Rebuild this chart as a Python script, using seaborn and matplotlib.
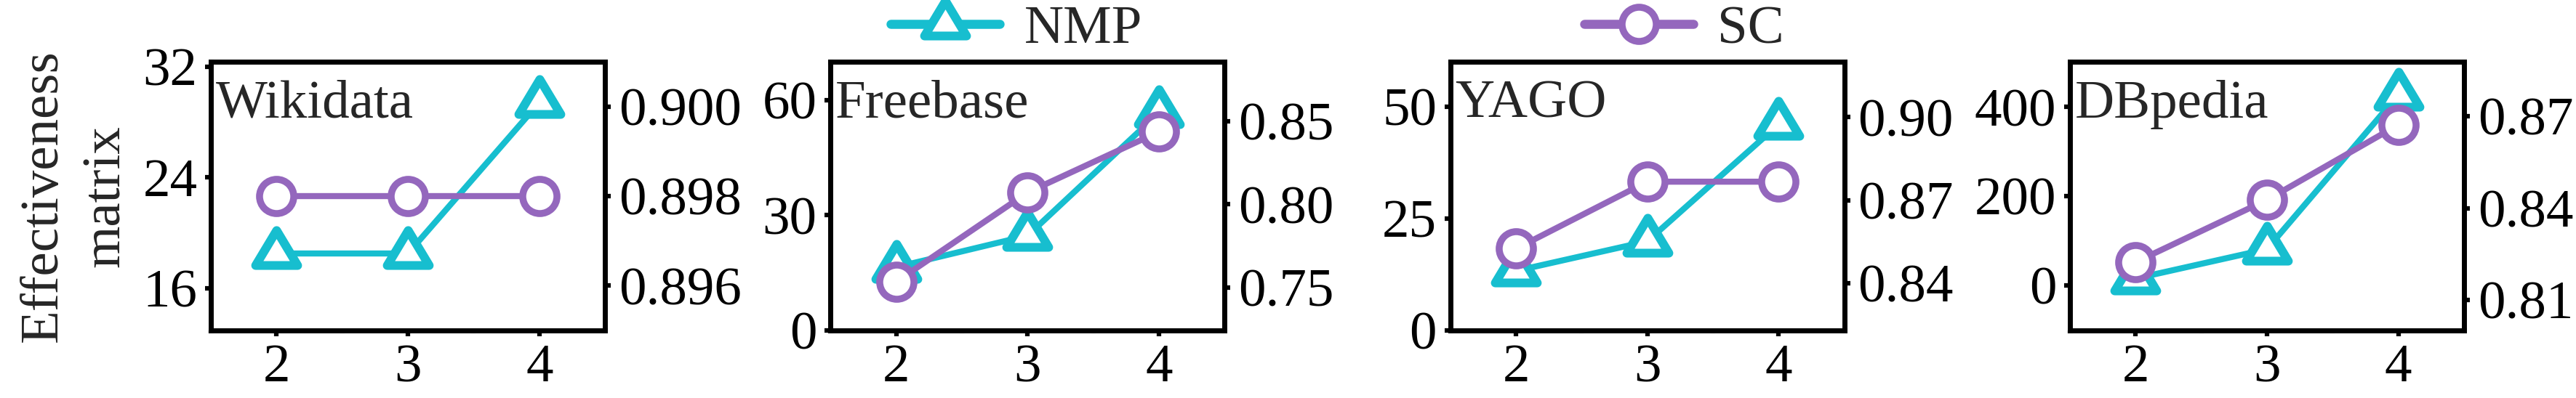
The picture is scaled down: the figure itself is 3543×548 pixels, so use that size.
import pandas as pd
import seaborn as sns
import matplotlib.pyplot as plt
from matplotlib.lines import Line2D
from matplotlib.path import Path
from matplotlib.markers import MarkerStyle
from matplotlib.ticker import MultipleLocator

# --- data ---
depth = [2, 3, 4]
datasets = ['Wikidata', 'Freebase', 'YAGO', 'DBpedia']

nmp_wikidata = [18.5, 18.5, 29.4]
nmp_freebase = [16.5, 24.7, 56.7]
nmp_yago = [13.3, 19.9, 46.0]
nmp_dbpedia = [15, 81, 427]

sc_wikidata = [0.898, 0.898, 0.898]
sc_freebase = [0.7534, 0.8072, 0.8438]
sc_yago = [0.8525, 0.8767, 0.8767]
sc_dbpedia = [0.8224, 0.8427, 0.8672]

nmp_ticks = [[16, 24, 32], [0, 30, 60], [0, 25, 50], [0, 200, 400]]
sc_ticks = [[0.896, 0.898, 0.900], [0.75, 0.80, 0.85], [0.84, 0.87, 0.90], [0.81, 0.84, 0.87]]
sc_fmt = ['{:.3f}', '{:.2f}', '{:.2f}', '{:.2f}']
nmp_lims = [(12.94, 32.35), (0, 70), (0, 60), (-101.5, 501.5)]
sc_lims = [(0.895, 0.901), (0.724, 0.886), (0.823, 0.920), (0.8001, 0.8878)]
sc_minor = [None, None, 0.015, 0.015]

nmp_all = [nmp_wikidata, nmp_freebase, nmp_yago, nmp_dbpedia]
sc_all = [sc_wikidata, sc_freebase, sc_yago, sc_dbpedia]

NMP_COLOR = '#17becf'
SC_COLOR = '#9467bd'

# triangle centred on its centroid, with round corners (as in the reference)
tri_path = Path([(0, 2 / 3), (-0.6, -1 / 3), (0.6, -1 / 3), (0, 2 / 3)],
                [Path.MOVETO, Path.LINETO, Path.LINETO, Path.CLOSEPOLY])
tri = MarkerStyle(tri_path, joinstyle='round')

nmp_style = dict(color=NMP_COLOR, marker=tri, markersize=15.4, markeredgewidth=2.9,
                 markerfacecolor='white', markeredgecolor=NMP_COLOR)
sc_style = dict(color=SC_COLOR, marker='o', markersize=11.3, markeredgewidth=2.3,
                markerfacecolor='white', markeredgecolor=SC_COLOR)

sns.set_theme(style='ticks')
plt.rcParams['font.family'] = ['Liberation Serif', 'DejaVu Serif']
plt.rcParams['font.size'] = 18
plt.rcParams['axes.linewidth'] = 1.6

fig, axes = plt.subplots(1, 4, figsize=(11.81, 1.8267), dpi=300)
fig.subplots_adjust(left=0.0819, right=0.9565, bottom=0.1697, top=0.8449, wspace=0.5727)

for i, ax in enumerate(axes):
    df = pd.DataFrame({'depth': depth, 'NMP': nmp_all[i], 'SC': sc_all[i]})

    sns.lineplot(data=df, x='depth', y='NMP', ax=ax, lw=2, **nmp_style)
    ax2 = ax.twinx()
    sns.lineplot(data=df, x='depth', y='SC', ax=ax2, lw=2, **sc_style)

    ax.set_xlim(1.5, 4.5)
    ax.set_xticks(depth)
    ax.xaxis.set_minor_locator(MultipleLocator(0.5))
    ax.set_ylim(*nmp_lims[i])
    ax.set_yticks(nmp_ticks[i])
    ax2.set_ylim(*sc_lims[i])
    ax2.set_yticks(sc_ticks[i])
    ax2.set_yticklabels([sc_fmt[i].format(t) for t in sc_ticks[i]])
    if sc_minor[i]:
        ax2.yaxis.set_minor_locator(MultipleLocator(sc_minor[i]))

    for a in (ax, ax2):
        a.set_xlabel('')
        a.set_ylabel('')
        a.tick_params(which='major', length=2, width=1.5, pad=2.5, labelsize=18, colors='black')
        a.tick_params(which='minor', length=1, width=1.5)
        for s in a.spines.values():
            s.set_linewidth(1.6)
            s.set_color('black')
    ax.tick_params(axis='y', which='minor', left=False)

    ax.text(0.012, 0.793, datasets[i], transform=ax.transAxes, fontsize=18,
            ha='left', va='baseline')

axes[0].set_ylabel('Effectiveness\nmatrix', fontsize=18, linespacing=1.35, labelpad=4)

handles = [
    Line2D([], [], lw=3, label='NMP', **nmp_style),
    Line2D([], [], lw=3, label='SC', **sc_style),
]
fig.legend(handles=handles, loc='center', bbox_to_anchor=(0.5192, 0.925), ncol=2,
           frameon=False, fontsize=18, handlelength=2.0, handletextpad=0.45,
           columnspacing=8.1, borderaxespad=0)

fig.savefig('out.png', dpi=300)
